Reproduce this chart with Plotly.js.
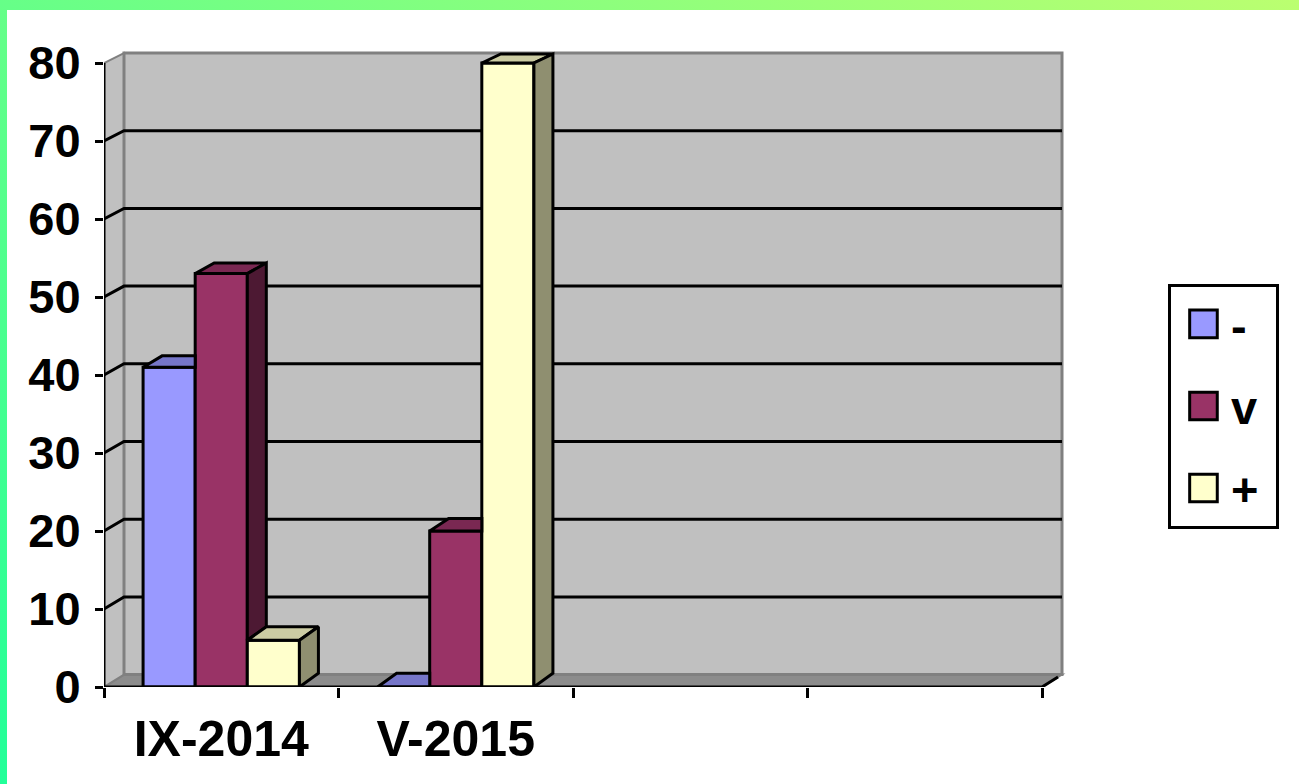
<!DOCTYPE html>
<html>
<head>
<meta charset="utf-8">
<script src="https://cdn.plot.ly/plotly-3.0.1.min.js"></script>
<style>
  html, body { margin: 0; padding: 0; width: 1299px; height: 784px; overflow: hidden; }
  body { background: linear-gradient(to top right, #22FF99 0%, #66FF88 50%, #BBFF70 100%); position: relative; }
  #chart { position: absolute; left: 7px; top: 10px; width: 1292px; height: 774px; background: #fff; }
</style>
</head>
<body>
<div id="chart"></div>
<script>
// ---- data ----
const categories = ['IX-2014', 'V-2015', '', ''];
const seriesNames = ['-', 'v', '+'];
const minusValues = [41, 0, null, null];
const vValues = [53, 20, null, null];
const plusValues = [6, 80, null, null];
const yTickValues = [0, 10, 20, 30, 40, 50, 60, 70, 80];

// ---- styles ----
const frontColors = ['#9999FF', '#993366', '#FFFFCC'];
const topColors = ['#7676C9', '#7A2852', '#CCCCA3'];
const sideColors = ['#5C5C99', '#4D1933', '#8F8F70'];
const FONT = 'Liberation Sans, Arial, sans-serif';

// ---- geometry (pixel scale -> data units) ----
const PX_X = 234.5, PX_Y = 7.8;
const X0 = -0.5, X1 = categories.length - 0.5;
const YMAX = yTickValues[yTickValues.length - 1];
const wallDX = 20 / PX_X;
const wallDY = v => (10 + (YMAX - v) * 0.03) / PX_Y;
const barDX = 19 / PX_X;
const barDY = v => (9 + (YMAX - v) * 0.06) / PX_Y;
const GAP = 1 / 3;
const series = [minusValues, vValues, plusValues];
const W = (1 - GAP) / series.length;

const xIdx = categories.map((c, i) => i);
const traces = [];
series.forEach((vals, j) => {
  traces.push({
    type: 'bar', name: seriesNames[j], x: xIdx, y: vals,
    marker: { color: frontColors[j], line: { color: '#000', width: 3 } },
    legendgroup: 'g' + j, hoverinfo: 'skip'
  });
});

function poly(pts, color) {
  const closed = pts.concat([pts[0]]);
  return {
    type: 'scatter', mode: 'lines', x: closed.map(p => p[0]), y: closed.map(p => p[1]),
    fill: 'toself', fillcolor: color, line: { color: '#000', width: 3 },
    showlegend: false, hoverinfo: 'skip'
  };
}

categories.forEach((c, i) => {
  series.forEach((vals, j) => {
    const v = vals[i];
    if (v === null || v === undefined) return;
    const xl = i - (series.length / 2) * W + j * W;
    const xr = xl + W;
    const next = j < series.length - 1 ? series[j + 1][i] : null;
    const dy = barDY(v);
    let top;
    if (next !== null && next >= v + dy) {
      top = [[xl, v], [xr, v], [xr, v + dy], [xl + barDX, v + dy]];
    } else {
      top = [[xl, v], [xr, v], [xr + barDX, v + dy], [xl + barDX, v + dy]];
    }
    traces.push(poly(top, topColors[j]));
    const lo = next === null ? 0 : next;
    if (lo < v) {
      traces.push(poly([[xr, lo], [xr + barDX, lo + barDY(lo)], [xr + barDX, v + dy], [xr, v]], sideColors[j]));
    }
  });
});

// ---- walls, floor, gridlines ----
function path(pts, close) {
  return pts.map((p, k) => (k ? 'L' : 'M') + p[0] + ',' + p[1]).join(' ') + (close ? ' Z' : '');
}
const shapes = [];
shapes.push({ type: 'path', xref: 'x', yref: 'y', layer: 'below',
  path: path([[X0, 0], [X1, 0], [X1 + wallDX, wallDY(0)], [X0 + wallDX, wallDY(0)]], true),
  fillcolor: '#8C8C8C', line: { color: '#808080', width: 2 } });
shapes.push({ type: 'path', xref: 'x', yref: 'y', layer: 'below',
  path: path([[X0, 0], [X0 + wallDX, wallDY(0)], [X0 + wallDX, YMAX + wallDY(YMAX)], [X0, YMAX]], true),
  fillcolor: '#C0C0C0', line: { color: '#808080', width: 2 } });
shapes.push({ type: 'path', xref: 'x', yref: 'y', layer: 'below',
  path: path([[X0 + wallDX, wallDY(0)], [X1 + wallDX, wallDY(0)], [X1 + wallDX, YMAX + wallDY(YMAX)], [X0 + wallDX, YMAX + wallDY(YMAX)]], true),
  fillcolor: '#C0C0C0', line: { color: '#808080', width: 3 } });
yTickValues.slice(1, -1).forEach(v => {
  shapes.push({ type: 'path', xref: 'x', yref: 'y', layer: 'below',
    path: path([[X0, v], [X0 + wallDX, v + wallDY(v)], [X1 + wallDX, v + wallDY(v)]], false),
    line: { color: '#000', width: 3 } });
});
shapes.push({ type: 'path', xref: 'x', yref: 'y', layer: 'above',
  path: path([[X0, YMAX], [X0, 0], [X1, 0], [X1 + wallDX * 0.8, wallDY(0) * 0.8]], false),
  line: { color: '#000', width: 3 } });

const layout = {
  width: 1292, height: 774,
  margin: { l: 97, r: 233, t: 40, b: 97, pad: 0 },
  paper_bgcolor: '#FFFFFF', plot_bgcolor: '#FFFFFF',
  barmode: 'group', bargap: GAP, bargroupgap: 0,
  showlegend: true,
  font: { family: FONT, color: '#000', size: 46, weight: 700 },
  xaxis: {
    type: 'linear', range: [X0, X1 + 24 / PX_X], fixedrange: true,
    tickmode: 'array', tickvals: xIdx, ticktext: categories, ticks: '',
    tickfont: { family: FONT, size: 50, color: '#000', weight: 700 },
    ticklabelstandoff: 18,
    showgrid: false, zeroline: false, showline: false,
    minor: { tickmode: 'array', tickvals: categories.map((c, i) => i - 0.5).concat([X1]),
      ticks: 'outside', ticklen: 10, tickwidth: 3, tickcolor: '#000', showgrid: false }
  },
  yaxis: {
    range: [0, 637 / PX_Y], fixedrange: true,
    tickmode: 'array', tickvals: yTickValues, ticktext: yTickValues.map(String),
    ticks: 'outside', ticklen: 8, tickwidth: 3, tickcolor: '#000',
    tickfont: { family: FONT, size: 47, color: '#000', weight: 700 },
    ticklabelstandoff: 5,
    showgrid: false, zeroline: false, showline: false
  },
  legend: {
    x: 1.106, xanchor: 'left', y: 0.633, yanchor: 'top',
    bgcolor: '#FFFFFF', bordercolor: '#000', borderwidth: 3,
    font: { family: FONT, size: 47, color: '#000', weight: 700 },
    tracegroupgap: 18, valign: 'middle', itemwidth: 50
  },
  shapes: shapes
};

Plotly.newPlot('chart', traces, layout, { staticPlot: true, displayModeBar: false }).then(() => {
  const bg = document.querySelector('#chart .legend .bg');
  const bgLeft = bg ? bg.getBoundingClientRect().left : 0;
  if (bg) {
    const w = parseFloat(bg.getAttribute('width'));
    if (w) bg.setAttribute('width', w + 12);
  }
  document.querySelectorAll('#chart .legend .legendpoints path').forEach(p => {
    const r = p.getBoundingClientRect();
    if (!r.width) return;
    const cx = r.left + r.width / 2;
    const dx = (bgLeft + 34) - cx;
    const existing = p.getAttribute('transform') || '';
    p.setAttribute('transform', existing + ' translate(' + dx + ',0) scale(2.3)');
    p.style.vectorEffect = 'non-scaling-stroke';
    p.style.strokeWidth = '3px';
    p.style.stroke = '#000';
  });
});
</script>
</body>
</html>
